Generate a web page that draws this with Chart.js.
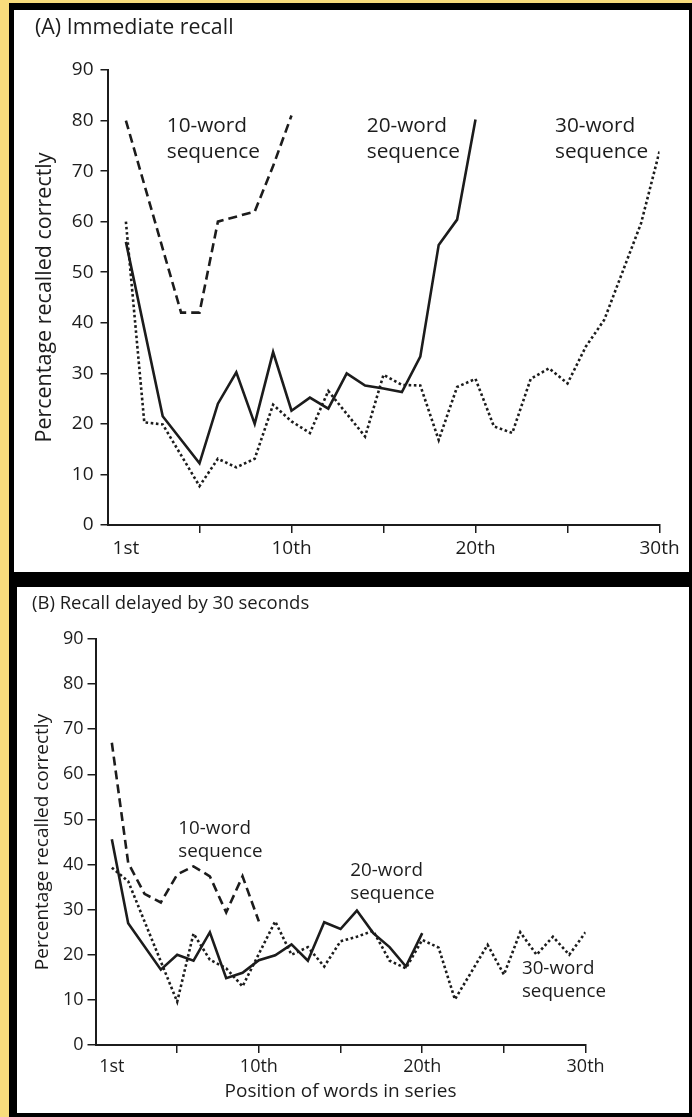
<!DOCTYPE html>
<html>
<head>
<meta charset="utf-8">
<title>Serial position curves</title>
<script src="https://cdn.jsdelivr.net/npm/chart.js@4.4.1/dist/chart.umd.min.js"></script>
<style>
    html, body { margin: 0; padding: 0; }
    body { background: #f8dc7c; width: 692px; height: 1117px; position: relative; overflow: hidden; }
    #moldura { position: absolute; left: 9px; top: 3px; width: 683px; height: 1114px; background: #000; }
    .painel { position: absolute; background: #fff; }
    #painelA { left: 14px; top: 10px; width: 675px; height: 562px; }
    #painelB { left: 17px; top: 587px; width: 672px; height: 526px; }
    canvas { display: block; }
</style>
</head>
<body>
<div id="moldura"></div>
<div class="painel" id="painelA"><canvas id="graficoA" width="675" height="562"></canvas></div>
<div class="painel" id="painelB"><canvas id="graficoB" width="672" height="526"></canvas></div>

<script>
// Eixo x: posição da palavra na série
const xTickValues = [1, 5, 10, 15, 20, 25, 30];
const xTickLabels = ['1st', '', '10th', '', '20th', '', '30th'];
const seqNames = ['10-word', '20-word', '30-word'];
const seqWord = 'sequence';

// (A) Lembrança imediata - posições e percentuais
const posA10 = [1, 4, 5, 6, 8, 9, 10];
const recallA10 = [80, 42, 42, 60, 62, 71, 81];
const posA20 = [1, 3, 5, 6, 7, 8, 9, 10, 11, 12, 13, 14, 15, 16, 17, 18, 19, 20];
const recallA20 = [56, 21.5, 12.2, 24, 30.2, 20, 34.2, 22.6, 25.2, 23, 30, 27.6, 27, 26.3, 33.3, 55.4, 60.4, 80.2];
const posA30 = [1, 2, 3, 5, 6, 7, 8, 9, 10, 11, 12, 14, 15, 16, 17, 18, 19, 20, 21, 22, 23, 24, 25, 26, 27, 29, 30];
const recallA30 = [60, 20.3, 19.9, 7.7, 13.1, 11.4, 13.1, 23.8, 20.5, 18.2, 26.5, 17.5, 29.7, 27.7, 27.6, 16.8, 27.3, 28.9, 19.5, 18.2, 28.9, 31, 28, 35.3, 40.6, 59.7, 73.9];

// (B) Lembrança após 30 segundos
const posB10 = [1, 2, 3, 4, 5, 6, 7, 8, 9, 10];
const recallB10 = [67, 40.4, 33.5, 31.6, 37.8, 39.6, 37.4, 29.4, 37.4, 27.4];
const posB20 = [1, 2, 4, 5, 6, 7, 8, 9, 10, 11, 12, 13, 14, 15, 16, 17, 18, 19, 20];
const recallB20 = [45.6, 27, 16.7, 20, 18.7, 25, 14.8, 16, 18.8, 19.9, 22.3, 18.7, 27.2, 25.7, 29.8, 24.8, 21.7, 17.4, 24.8];
const posB30 = [1, 2, 5, 6, 7, 8, 9, 11, 12, 13, 14, 15, 16, 17, 18, 19, 20, 21, 22, 24, 25, 26, 27, 28, 29, 30];
const recallB30 = [39.3, 36.3, 9.6, 24.7, 18.9, 17, 13, 27.4, 20, 21.7, 17.4, 23, 24, 25.3, 18.7, 17, 23.3, 21.6, 10.1, 22.2, 15.6, 25, 20, 24, 20, 25];

const ink = '#1c1c1c';
Chart.defaults.font.family = "'Open Sans', sans-serif";
Chart.defaults.color = ink;

// Rótulos "N-word sequence" ao lado de cada curva
const seqLabels = {
    id: 'seqLabels',
    afterDatasetsDraw(chart, args, opts) {
        const { ctx, scales: { x, y } } = chart;
        ctx.save();
        ctx.font = opts.size + "px 'Open Sans', sans-serif";
        ctx.fillStyle = ink;
        ctx.textBaseline = 'middle';
        ctx.textAlign = 'left';
        opts.items.forEach((item, i) => {
            const px = x.getPixelForValue(item.x);
            const py = y.getPixelForValue(item.y);
            ctx.fillText(seqNames[i], px, py);
            ctx.fillText(seqWord, px, py + opts.gap);
        });
        ctx.restore();
    }
};

function pontos(pos, vals) {
    return pos.map((p, i) => ({ x: p, y: vals[i] }));
}

function serie(pos, vals, dash) {
    return {
        data: pontos(pos, vals),
        borderColor: ink,
        borderWidth: 2.6,
        borderDash: dash,
        borderCapStyle: 'butt',
        borderJoinStyle: 'miter',
        pointRadius: 0,
        tension: 0,
        fill: false
    };
}

function criarGrafico(canvasId, cfg) {
    const ctx = document.getElementById(canvasId).getContext('2d');
    new Chart(ctx, {
        type: 'line',
        data: {
            datasets: [
                serie(cfg.pos10, cfg.val10, [9, 5]),
                serie(cfg.pos20, cfg.val20, []),
                serie(cfg.pos30, cfg.val30, [2.6, 2.6])
            ]
        },
        options: {
            responsive: false,
            animation: false,
            events: [],
            layout: { padding: { left: cfg.padLeft, right: cfg.padRight, top: 0, bottom: 0 } },
            plugins: {
                legend: { display: false },
                tooltip: { enabled: false },
                title: {
                    display: true,
                    text: cfg.title,
                    align: 'start',
                    color: ink,
                    font: { size: cfg.titleSize, weight: 'normal' },
                    padding: { top: cfg.titleTop, bottom: cfg.titleBottom }
                },
                seqLabels: { size: cfg.labelSize, gap: cfg.labelGap, items: cfg.labels }
            },
            scales: {
                x: {
                    type: 'linear',
                    min: 0,
                    max: 30,
                    afterBuildTicks: s => { s.ticks = xTickValues.map(v => ({ value: v })); },
                    afterFit: s => { s.height = cfg.xHeight; },
                    ticks: {
                        autoSkip: false,
                        maxRotation: 0,
                        padding: cfg.xTickPad,
                        font: { size: cfg.tickSize },
                        callback: v => xTickLabels[xTickValues.indexOf(v)]
                    },
                    grid: {
                        drawOnChartArea: false,
                        tickLength: 8,
                        lineWidth: 1.5,
                        color: c => (c.tick && c.tick.value === 1) ? 'rgba(0,0,0,0)' : ink
                    },
                    border: { color: ink, width: 2 },
                    title: {
                        display: !!cfg.xTitle,
                        text: cfg.xTitle || '',
                        font: { size: cfg.xTitleSize },
                        padding: { top: 0, bottom: cfg.xTitlePad }
                    }
                },
                y: {
                    min: 0,
                    max: 90,
                    afterFit: s => { s.width = cfg.yWidth; },
                    ticks: { stepSize: 10, padding: cfg.yTickPad, font: { size: cfg.tickSize } },
                    grid: { drawOnChartArea: false, tickLength: cfg.yTickLen, lineWidth: 1.5, color: ink },
                    border: { color: ink, width: 2 },
                    title: {
                        display: true,
                        text: 'Percentage recalled correctly',
                        font: { size: cfg.axisTitleSize },
                        padding: { top: cfg.yTitlePad, bottom: 0 }
                    }
                }
            }
        },
        plugins: [seqLabels]
    });
}

criarGrafico('graficoA', {
    title: '(A) Immediate recall',
    pos10: posA10, val10: recallA10,
    pos20: posA20, val20: recallA20,
    pos30: posA30, val30: recallA30,
    padLeft: 21, padRight: 29.5,
    titleSize: 21.4, titleTop: 5.2, titleBottom: 29.1,
    yWidth: 72.5, yTickLen: 7, yTickPad: 7,
    xHeight: 47, xTickPad: 4,
    tickSize: 19, axisTitleSize: 21.5, yTitlePad: -3,
    labelSize: 20.8, labelGap: 26,
    labels: [{ x: 3.22, y: 79 }, { x: 14.09, y: 79 }, { x: 24.32, y: 79 }]
});

criarGrafico('graficoB', {
    title: '(B) Recall delayed by 30 seconds',
    pos10: posB10, val10: recallB10,
    pos20: posB20, val20: recallB20,
    pos30: posB30, val30: recallB30,
    padLeft: 15, padRight: 103.4,
    titleSize: 18.5, titleTop: 5.9, titleBottom: 23.9,
    yWidth: 63.5, yTickLen: 8, yTickPad: 4,
    xHeight: 68, xTickPad: 3,
    xTitle: 'Position of words in series', xTitleSize: 19, xTitlePad: 9.6,
    tickSize: 18, axisTitleSize: 19, yTitlePad: -1,
    labelSize: 18.8, labelGap: 23,
    labels: [{ x: 5.07, y: 48 }, { x: 15.6, y: 38.7 }, { x: 26.1, y: 16.9 }]
});
</script>
</body>
</html>
